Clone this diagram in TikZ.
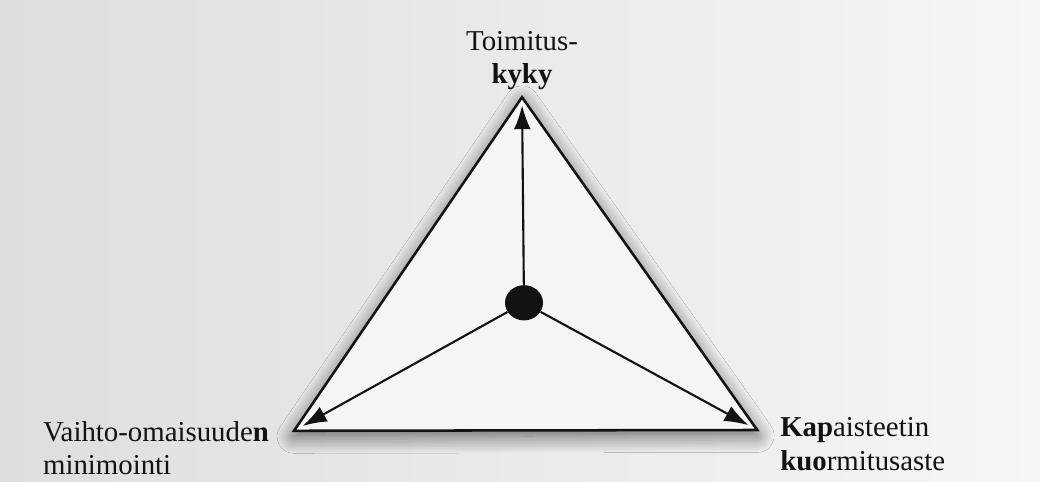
\documentclass[tikz,border=0pt]{standalone}
\usepackage{fontspec}
\setmainfont{Liberation Serif}
\usepackage{tikz}
\usetikzlibrary{positioning,arrows.meta,shapes.geometric,shadows.blur}
\definecolor{pagegray}{RGB}{222,222,222}
\definecolor{pagelight}{RGB}{246,246,246}
\definecolor{inkblack}{RGB}{18,18,18}

\begin{document}
\begin{tikzpicture}[
  every node/.style={font=\fontsize{20.5}{24}\selectfont, text=inkblack},
  lbl/.style={inner sep=0pt, align=left},
  side/.style={draw=inkblack, line width=1.8pt, line join=miter,
    fill=white!96!black,
    blur shadow={shadow xshift=0pt, shadow yshift=-4pt,
      shadow blur radius=12pt, shadow blur steps=12,
      shadow opacity=60}},
  arr/.style={-{Latex[length=6mm,width=4.2mm]}, line width=1.5pt, draw=inkblack},
  hubdot/.style={ellipse, fill=inkblack, inner sep=0pt,
    minimum width=0.95cm, minimum height=0.88cm},
]
\useasboundingbox (0,0) rectangle (26,12.05);
\shade[left color=pagegray, right color=pagelight] (0,0) rectangle (26,12.05);

% corners of the triangle
\coordinate (top)   at (13.05, 9.62);
\coordinate (left)  at ( 7.35, 1.28);
\coordinate (right) at (18.93, 1.30);

\path[side] (top) -- (left) -- (right) -- cycle;

\node[hubdot] at (13.1, 4.48) (hub) {};

% labels
\node[lbl, align=center, anchor=north]   at (13.05, 11.28) (kyky)  {Toimitus-\\\textbf{kyky}};
\node[lbl, anchor=north west] at ( 1.07,  1.53) (vaihto) {Vaihto-omaisuude\textbf{n}\\minimointi};
\node[lbl, anchor=north west] at (19.50,  1.62) (kapa)   {\textbf{Kap}aisteetin\\\textbf{kuo}rmitusaste};

\draw[arr, shorten >=0.2cm]  (hub) -- (top);
\draw[arr, shorten >=0.25cm] (hub) -- (left);
\draw[arr, shorten >=0.25cm] (hub) -- (right);
\end{tikzpicture}
\end{document}
